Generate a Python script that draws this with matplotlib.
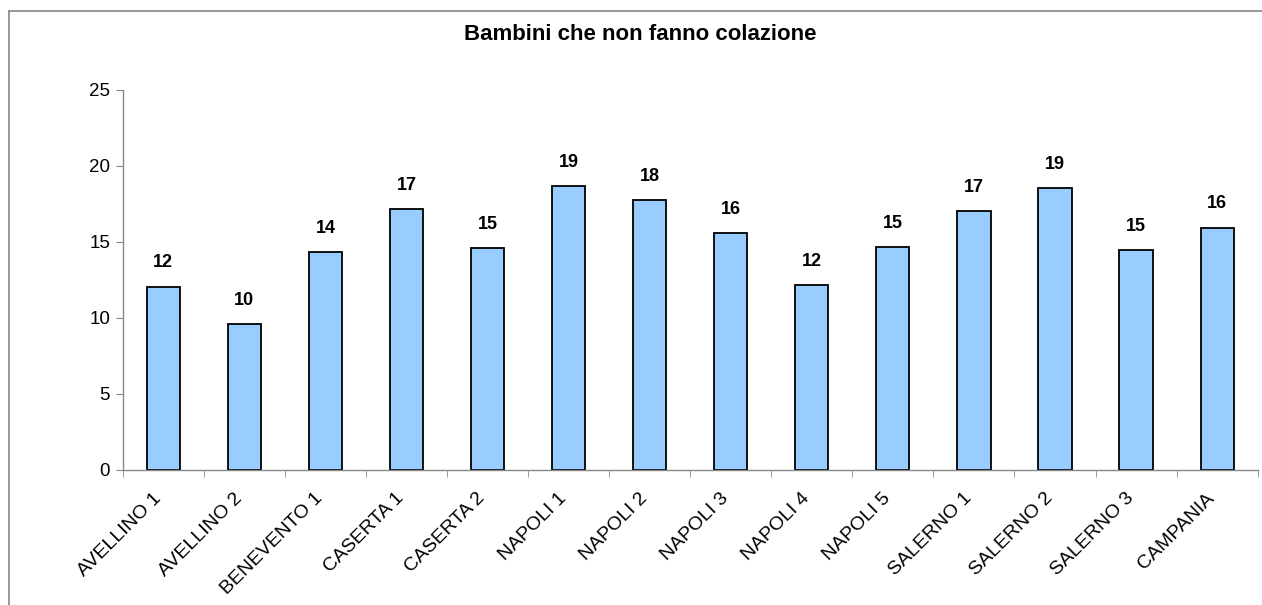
import matplotlib.pyplot as plt
import matplotlib.transforms as mtrans
from matplotlib.lines import Line2D
import numpy as np

plt.rcParams['font.family'] = ['Liberation Sans', 'DejaVu Sans']

categories = ["AVELLINO 1", "AVELLINO 2", "BENEVENTO 1", "CASERTA 1", "CASERTA 2",
              "NAPOLI 1", "NAPOLI 2", "NAPOLI 3", "NAPOLI 4", "NAPOLI 5",
              "SALERNO 1", "SALERNO 2", "SALERNO 3", "CAMPANIA"]
values = [12.06, 9.58, 14.34, 17.17, 14.6, 18.68, 17.76, 15.6, 12.17, 14.67,
          17.04, 18.53, 14.45, 15.94]
labels = ["12", "10", "14", "17", "15", "19", "18", "16", "12", "15",
          "17", "19", "15", "16"]
yticks = [0, 5, 10, 15, 20, 25]

fig = plt.figure(figsize=(12.62, 6.05), dpi=100)
ax = fig.add_axes([122.7/1262, 1-470/605, 1135/1262, 380/605])

x = np.arange(len(categories))
ax.bar(x, values, width=0.41, color="#99CCFF", edgecolor="black", linewidth=1.3)
for xi, v, lab in zip(x, values, labels):
    ax.annotate(lab, (xi, v), xytext=(0, 11), textcoords="offset points",
                ha="center", va="bottom", fontsize=13, fontweight="bold")

ax.set_xlim(-0.5, len(categories) - 0.5)
ax.set_ylim(0, 25)
ax.set_yticks(yticks)
ax.set_xticks(x)
ax.set_xticklabels(categories, rotation=45, ha="right", va="top",
                   rotation_mode="anchor", fontsize=14)
ax.set_xticks(np.arange(len(categories) + 1) - 0.5, minor=True)
ax.tick_params(axis="x", which="major", length=0, pad=14)
ax.tick_params(axis="x", which="minor", length=5, color="#888888", direction="out")
ax.tick_params(axis="y", length=5, color="#888888", labelsize=13.5, pad=4)
# nudge rotated labels left so they end under the category centre
shift = mtrans.ScaledTranslation(-0.11, 0, fig.dpi_scale_trans)
for lbl in ax.get_xticklabels():
    lbl.set_transform(lbl.get_transform() + shift)
for s in ["top", "right"]:
    ax.spines[s].set_visible(False)
for s in ["left", "bottom"]:
    ax.spines[s].set_color("#888888")
    ax.spines[s].set_linewidth(1)

fig.text(640/1262, 1-35/605, "Bambini che non fanno colazione", ha="center", va="center",
         fontsize=16, fontweight="bold")

# outer frame
fig.add_artist(Line2D([9/1262, 9/1262], [0, 1-11/605], color="#888888", lw=1.2))
fig.add_artist(Line2D([9/1262, 1], [1-11/605, 1-11/605], color="#888888", lw=1.2))

fig.savefig("out.png", dpi=100)
